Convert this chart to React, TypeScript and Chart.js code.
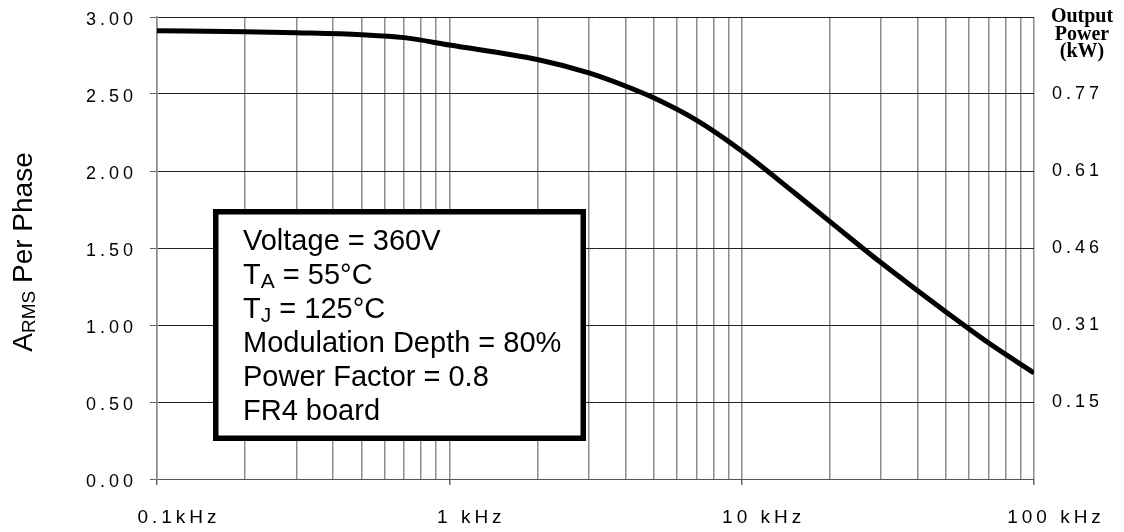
import React, { useEffect, useRef } from 'react';
import { Chart, registerables } from 'chart.js';

Chart.register(...registerables);

// ---------- data ----------
const frequenciesKHz = [0.1, 0.2, 0.3, 0.5, 0.7, 1, 2, 3, 4, 5, 7, 10, 15, 20, 30, 40, 50, 70, 100];
const armsPerPhase = [2.91, 2.905, 2.898, 2.885, 2.866, 2.818, 2.724, 2.637, 2.552, 2.475, 2.33, 2.13, 1.865, 1.673, 1.404, 1.223, 1.085, 0.883, 0.689];

const decadeTicks = [0.1, 1, 10, 100];
const xTickLabels = ['0.1kHz', '1 kHz', '10 kHz', '100 kHz'];
const minorMultipliers = [2, 3, 4, 5, 6, 7, 8, 9];

const leftTickValues = [0, 0.5, 1, 1.5, 2, 2.5, 3];
const leftTickLabels = ['0.00', '0.50', '1.00', '1.50', '2.00', '2.50', '3.00'];

const rightTickValues = [0.5, 1, 1.5, 2, 2.5];
const rightTickLabels = ['0.15', '0.31', '0.46', '0.61', '0.77'];
const rightAxisTitle = ['Output', 'Power', '(kW)'];

const yTitleMain = 'A';
const yTitleSub = 'RMS';
const yTitleRest = ' Per Phase';

const conditionLines = [
  { main: 'Voltage = 360V', sub: '', rest: '' },
  { main: 'T', sub: 'A', rest: ' = 55°C' },
  { main: 'T', sub: 'J', rest: ' = 125°C' },
  { main: 'Modulation Depth = 80%', sub: '', rest: '' },
  { main: 'Power Factor = 0.8', sub: '', rest: '' },
  { main: 'FR4 board', sub: '', rest: '' },
];

const SANS = '"Liberation Sans", Arial, sans-serif';
const SERIF = '"Liberation Serif", "Times New Roman", serif';

const allXTicks: number[] = [];
decadeTicks.forEach((d, i) => {
  allXTicks.push(d);
  if (i < decadeTicks.length - 1) minorMultipliers.forEach((m) => allXTicks.push(m * d));
});

const zeroPadding = (scale: any) => {
  scale.paddingTop = 0;
  scale.paddingBottom = 0;
  scale.paddingLeft = 0;
  scale.paddingRight = 0;
};

const decorPlugin = {
  id: 'decor',
  beforeDraw(chart: any) {
    chart.ctx.letterSpacing = '4px';
  },
  afterDraw(chart: any) {
    const ctx = chart.ctx;
    const area = chart.chartArea;
    ctx.save();
    ctx.letterSpacing = '0px';
    ctx.fillStyle = '#000';

    // y axis title (rotated, with subscript)
    ctx.save();
    ctx.translate(32, 252);
    ctx.rotate(-Math.PI / 2);
    ctx.textBaseline = 'alphabetic';
    ctx.textAlign = 'left';
    ctx.font = `28px ${SANS}`;
    const wA = ctx.measureText(yTitleMain).width;
    const wRest = ctx.measureText(yTitleRest).width;
    ctx.font = `19px ${SANS}`;
    const wSub = ctx.measureText(yTitleSub).width;
    const total = wA + wSub + wRest;
    const x0 = -total / 2;
    ctx.font = `28px ${SANS}`;
    ctx.fillText(yTitleMain, x0, 0);
    ctx.font = `19px ${SANS}`;
    ctx.fillText(yTitleSub, x0 + wA, 3);
    ctx.font = `28px ${SANS}`;
    ctx.fillText(yTitleRest, x0 + wA + wSub, 0);
    ctx.restore();

    // right axis title
    ctx.font = `bold 20px ${SERIF}`;
    ctx.textAlign = 'center';
    ctx.textBaseline = 'alphabetic';
    rightAxisTitle.forEach((t, i) => {
      ctx.fillText(t, area.right + 48, 22 + i * 17.5);
    });

    // conditions box
    const bx = area.left + 56;
    const by = area.top + 192;
    const bw = 373;
    const bh = 232;
    const lw = 5.5;
    ctx.fillStyle = '#fff';
    ctx.fillRect(bx, by, bw, bh);
    ctx.strokeStyle = '#000';
    ctx.lineWidth = lw;
    ctx.strokeRect(bx + lw / 2, by + lw / 2, bw - lw, bh - lw);

    ctx.fillStyle = '#000';
    ctx.textAlign = 'left';
    const tx = bx + 30;
    conditionLines.forEach((ln, i) => {
      const y = by + 41 + i * 34;
      ctx.font = `29px ${SANS}`;
      ctx.fillText(ln.main, tx, y);
      let cx = tx + ctx.measureText(ln.main).width;
      if (ln.sub) {
        ctx.font = `21px ${SANS}`;
        ctx.fillText(ln.sub, cx, y + 4);
        cx += ctx.measureText(ln.sub).width;
      }
      if (ln.rest) {
        ctx.font = `29px ${SANS}`;
        ctx.fillText(ln.rest, cx, y);
      }
    });
    ctx.restore();
  },
};

export default function App() {
  const canvasRef = useRef<HTMLCanvasElement | null>(null);

  useEffect(() => {
    if (!canvasRef.current) return;
    const chart = new Chart(canvasRef.current, {
      type: 'line',
      data: {
        datasets: [
          {
            data: frequenciesKHz.map((f, i) => ({ x: f, y: armsPerPhase[i] })),
            borderColor: '#000',
            borderWidth: 5,
            pointRadius: 0,
            fill: false,
            cubicInterpolationMode: 'monotone',
            yAxisID: 'y',
          },
        ],
      },
      options: {
        responsive: true,
        maintainAspectRatio: false,
        animation: false,
        layout: { padding: { top: 17, left: 0, right: 0, bottom: 0 } },
        plugins: { legend: { display: false }, tooltip: { enabled: false } },
        scales: {
          x: {
            type: 'logarithmic',
            position: 'bottom',
            min: 0.1,
            max: 100,
            afterBuildTicks: (scale: any) => {
              scale.ticks = allXTicks.map((v) => ({ value: v }));
            },
            afterFit: (scale: any) => {
              scale.height = 53;
              zeroPadding(scale);
            },
            grid: {
              color: '#8c8c8c',
              lineWidth: 1.5,
              tickLength: 6,
              tickColor: (c: any) => (c.tick && decadeTicks.includes(c.tick.value) ? '#666' : 'rgba(0,0,0,0)'),
            },
            border: { display: true, color: '#555', width: 1 },
            ticks: {
              autoSkip: false,
              maxRotation: 0,
              minRotation: 0,
              padding: 21,
              labelOffset: 22,
              color: '#000',
              font: { family: SANS, size: 19 },
              callback: (value: any) => {
                const i = decadeTicks.indexOf(Number(value));
                return i >= 0 ? xTickLabels[i] : '';
              },
            },
          },
          y: {
            position: 'left',
            min: 0,
            max: 3,
            afterBuildTicks: (scale: any) => {
              scale.ticks = leftTickValues.map((v) => ({ value: v }));
            },
            afterFit: (scale: any) => {
              scale.width = 157;
              zeroPadding(scale);
            },
            grid: { color: '#222', lineWidth: 1, tickLength: 7, tickColor: '#666' },
            border: { display: true, color: '#8c8c8c', width: 1.5 },
            ticks: {
              padding: 13,
              labelOffset: 3.5,
              color: '#000',
              font: { family: SANS, size: 18 },
              callback: (value: any) => {
                const i = leftTickValues.indexOf(Number(value));
                return i >= 0 ? leftTickLabels[i] : '';
              },
            },
          },
          y2: {
            position: 'right',
            min: 0,
            max: 3,
            afterBuildTicks: (scale: any) => {
              scale.ticks = rightTickValues.map((v) => ({ value: v }));
            },
            afterFit: (scale: any) => {
              scale.width = 90;
              zeroPadding(scale);
            },
            grid: { display: false, drawTicks: false },
            border: { display: false },
            ticks: {
              padding: 18,
              color: '#000',
              font: { family: SANS, size: 18 },
              callback: (value: any) => {
                const i = rightTickValues.indexOf(Number(value));
                return i >= 0 ? rightTickLabels[i] : '';
              },
            },
          },
        },
      },
      plugins: [decorPlugin],
    } as any);
    return () => chart.destroy();
  }, []);

  return (
    <div style={{ position: 'fixed', left: 0, top: 0, width: 1124, height: 532, background: '#fff' }}>
      <canvas ref={canvasRef} />
    </div>
  );
}
